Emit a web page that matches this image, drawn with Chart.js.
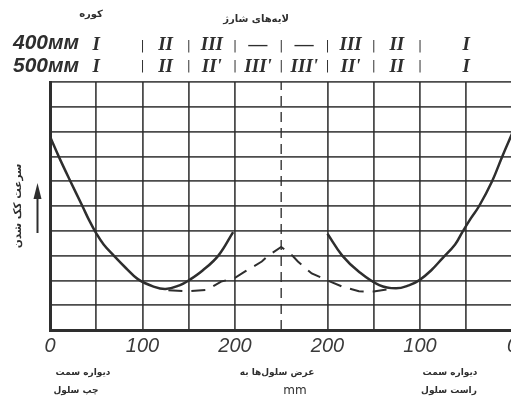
<!DOCTYPE html>
<html>
<head>
<meta charset="utf-8">
<script src="https://cdn.jsdelivr.net/npm/chart.js@4"></script>
<style>
  body { margin: 0; background: #fff; overflow: hidden; }
  #wrap { width: 522px; height: 401px; }
</style>
</head>
<body>
<div id="wrap"><canvas id="coke" width="522" height="401"></canvas></div>
<script>
// cell width in mm, measured from the left wall
const leftWallX = [0, 10, 22, 35, 42, 50, 58, 69, 82, 95, 112, 125, 140, 150, 165, 182, 198];
const leftWallY = [7.8, 6.95, 6.0, 5.0, 4.45, 3.9, 3.45, 3.0, 2.5, 2.05, 1.75, 1.65, 1.8, 2.0, 2.4, 3.0, 3.95];

const rightWallX = [300, 316, 334, 356, 374, 388, 399, 412, 424, 438, 446, 455, 464, 478, 489, 500];
const rightWallY = [3.88, 3.0, 2.35, 1.81, 1.68, 1.8, 2.0, 2.4, 2.88, 3.45, 3.96, 4.5, 5.0, 6.0, 7.0, 7.95];

const midX = [128, 150, 170, 185, 200, 211, 229, 236, 250, 262, 268, 283, 300, 316, 334, 350, 368];
const midY = [1.6, 1.56, 1.62, 1.95, 2.1, 2.36, 2.76, 3.0, 3.35, 3.0, 2.76, 2.28, 2.0, 1.75, 1.56, 1.55, 1.66];

const centerLineX = [250, 250];
const centerLineY = [0, 10];

const xTickValues = [0, 100, 200, 300, 400, 500];
const xTickLabels = ['0', '100', '200', '200', '100', '0'];

// charge layers across the cell
const zoneCenters = [50, 125, 175, 225, 275, 325, 375, 450];
const zoneBounds = [100, 150, 200, 250, 300, 350, 400, 500];
const layers400 = ['I', 'II', 'III', '—', '—', 'III', 'II', 'I'];
const layers500 = ['I', 'II', "II'", "III'", "III'", "II'", 'II', 'I'];

const toPoints = (xs, ys) => xs.map((x, i) => ({ x: x, y: ys[i] }));

const ink = '#2e2e2e';
const gridInk = 'rgba(45,45,45,0.85)';

const extras = {
  id: 'extras',
  afterDraw(chart) {
    const { ctx, chartArea, scales: { x } } = chart;
    ctx.save();
    ctx.fillStyle = ink;
    ctx.textAlign = 'center';
    ctx.textBaseline = 'middle';

    // persian headings
    ctx.direction = 'rtl';
    ctx.font = 'bold 10px "DejaVu Sans"';
    ctx.fillText('کوره', 91, 14);
    ctx.fillText('لایه‌های شارژ', 256, 19);

    // bottom captions
    ctx.font = 'bold 9px "DejaVu Sans"';
    ctx.fillText('دیواره سمت', 83, 373);
    ctx.fillText('چپ سلول', 76, 391);
    ctx.fillText('عرض سلول‌ها به', 277, 373);
    ctx.fillText('دیواره سمت', 450, 373);
    ctx.fillText('راست سلول', 449, 391);
    ctx.direction = 'ltr';
    ctx.font = '12px "DejaVu Sans"';
    ctx.fillText('mm', 295, 391);

    // oven width rows
    ctx.font = 'italic bold 21px "Liberation Sans"';
    ctx.fillText('400мм', 46, 43);
    ctx.fillText('500мм', 46, 66);

    ctx.font = 'italic bold 19px "Liberation Serif"';
    zoneCenters.forEach((mm, i) => {
      const px = x.getPixelForValue(mm);
      ctx.fillText(layers400[i], px, 45);
      ctx.fillText(layers500[i], px, 67);
    });
    ctx.font = '12px "DejaVu Sans"';
    zoneBounds.forEach(mm => {
      const px = x.getPixelForValue(mm);
      ctx.fillText('|', px, 47);
      ctx.fillText('|', px, 67);
    });

    // arrow beside the y title
    const ax = chartArea.left - 12.5;
    const mid = (chartArea.top + chartArea.bottom) / 2;
    ctx.strokeStyle = ink;
    ctx.lineWidth = 2;
    ctx.beginPath();
    ctx.moveTo(ax, mid + 27);
    ctx.lineTo(ax, mid - 10);
    ctx.stroke();
    ctx.beginPath();
    ctx.moveTo(ax, mid - 23);
    ctx.lineTo(ax - 4, mid - 7);
    ctx.lineTo(ax + 4, mid - 7);
    ctx.closePath();
    ctx.fill();
    ctx.restore();
  }
};

new Chart(document.getElementById('coke'), {
  type: 'line',
  data: {
    datasets: [
      {
        data: toPoints(leftWallX, leftWallY),
        borderColor: ink,
        borderWidth: 2.5,
        tension: 0.4,
        pointRadius: 0,
      },
      {
        data: toPoints(rightWallX, rightWallY),
        borderColor: ink,
        borderWidth: 2.5,
        tension: 0.4,
        pointRadius: 0,
      },
      {
        data: toPoints(midX, midY),
        borderColor: ink,
        borderWidth: 2,
        borderDash: [14, 9],
        tension: 0,
        pointRadius: 0,
      },
      {
        data: toPoints(centerLineX, centerLineY),
        borderColor: gridInk,
        borderWidth: 1.6,
        borderDash: [10, 6],
        pointRadius: 0,
      },
    ],
  },
  options: {
    responsive: false,
    animation: false,
    devicePixelRatio: 1,
    layout: { padding: { top: 82, right: 9, left: 0, bottom: 0 } },
    plugins: { legend: { display: false }, tooltip: { enabled: false } },
    scales: {
      x: {
        type: 'linear',
        min: 0,
        max: 500,
        afterFit: s => { s.height = 71; },
        grid: {
          drawTicks: false,
          lineWidth: 1.8,
          color: c => (c.tick && c.tick.value === 250 ? 'rgba(0,0,0,0)' : gridInk),
        },
        border: { color: ink, width: 3 },
        ticks: {
          stepSize: 50,
          autoSkip: false,
          maxRotation: 0,
          padding: 4,
          color: '#3a3a3a',
          font: { family: 'Liberation Sans', size: 20, style: 'italic' },
          callback: v => {
            const i = xTickValues.indexOf(v);
            return i >= 0 ? xTickLabels[i] : '';
          },
        },
      },
      y: {
        min: 0,
        max: 10,
        afterFit: s => { s.width = 50; },
        grid: { drawTicks: false, lineWidth: 1.8, color: gridInk },
        border: { color: ink, width: 3 },
        ticks: { display: false, stepSize: 1 },
        title: {
          display: true,
          text: 'سرعت کک شدن',
          color: ink,
          padding: { top: 12, bottom: 0 },
          font: { family: 'DejaVu Sans', size: 10.5, weight: 'bold' },
        },
      },
    },
  },
  plugins: [extras],
});
</script>
</body>
</html>
